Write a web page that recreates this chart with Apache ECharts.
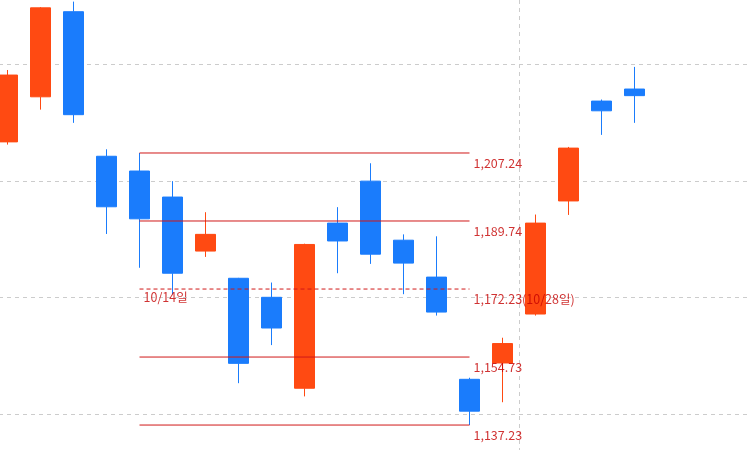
<!DOCTYPE html>
<html>
<head>
<meta charset="utf-8">
<script src="https://cdn.jsdelivr.net/npm/echarts@6/dist/echarts.min.js"></script>
<style>
html,body{margin:0;padding:0;background:#fff;}
#chart{width:748px;height:450px;}
</style>
</head>
<body>
<div id="chart"></div>
<script>
// categories (trading days)
var dates = ['10/07','10/08','10/10','10/11','10/14','10/15','10/16','10/17','10/18','10/21',
             '10/22','10/23','10/24','10/25','10/28','10/29','10/30','10/31','11/01','11/04',
             '11/05','11/06','11/07'];
// OHLC values: open, close, low, high
var opens  = [1210.1, 1221.7, 1243.6, 1206.4, 1202.6, 1195.9, 1182.0, 1175.0, 1170.1, 1146.7,
              1189.2, 1200.0, 1184.8, 1175.3, 1149.0, 1153.2, 1165.8, 1194.9, 1220.6, 1223.7];
var closes = [1227.3, 1244.6, 1217.1, 1193.4, 1190.3, 1176.3, 1186.3, 1153.1, 1162.2, 1183.7,
              1184.6, 1181.2, 1178.9, 1166.3, 1140.8, 1158.2, 1189.2, 1208.5, 1218.1, 1222.0];
var lows   = [1209.4, 1218.4, 1215.0, 1186.4, 1177.7, 1170.9, 1180.5, 1148.0, 1157.8, 1144.6,
              1176.3, 1178.7, 1170.9, 1165.4, 1137.23, 1143.1, 1165.4, 1191.3, 1211.9, 1215.0];
var highs  = [1228.6, 1244.8, 1246.2, 1208.2, 1207.24, 1200.0, 1192.0, 1175.1, 1173.9, 1183.9,
              1193.3, 1204.6, 1186.3, 1185.8, 1149.4, 1159.7, 1191.4, 1208.8, 1221.0, 1229.4];
// level lines (high 10/14 to low 10/28)
var levelValues = [1207.24, 1189.74, 1172.23, 1154.73, 1137.23];
var levelLabels = ['1,207.24', '1,189.74', '1,172.23(10/28일)', '1,154.73', '1,137.23'];
var levelDashed = [false, false, true, false, false];
var levelStart = '10/14';
var levelEnd = '10/28';
var startLabel = '10/14일';
var yTicks = [1140, 1170, 1200, 1230];
var dividerAfter = 16; // vertical divider sits before this category index

var ohlc = opens.map(function (o, i) { return [o, closes[i], lows[i], highs[i]]; });
var startIdx = dates.indexOf(levelStart);
var endIdx = dates.indexOf(levelEnd);
var lineRed = '#d01818';
var gridColor = '#cccccc';

var levelSeries = levelValues.map(function (v, i) {
  return {
    type: 'line',
    xAxisIndex: 0,
    yAxisIndex: 0,
    data: [[startIdx, v], [endIdx, v]],
    symbol: 'none',
    clip: false,
    silent: true,
    z: 3,
    color: lineRed,
    lineStyle: { color: lineRed, width: 1, opacity: 1, type: levelDashed[i] ? [4, 3] : 'solid' }
  };
});

var labelPoints = levelValues.map(function (v, i) {
  return { value: [endIdx, v], label: { formatter: levelLabels[i], offset: [0, 10] } };
});
labelPoints.push({ value: [startIdx, levelValues[2]], label: { formatter: startLabel, offset: [0, 8] } });

var chart = echarts.init(document.getElementById('chart'), null, { renderer: 'canvas' });
chart.setOption({
  animation: false,
  backgroundColor: '#ffffff',
  grid: [
    { left: -9, right: -2, top: 64.56, bottom: 35.73, containLabel: false, outerBoundsMode: 'none' },
    { left: -9, right: -2, top: 0, bottom: 0, containLabel: false, outerBoundsMode: 'none' }
  ],
  xAxis: [
    {
      type: 'category',
      gridIndex: 0,
      data: dates,
      boundaryGap: true,
      axisLine: { show: false },
      axisTick: { show: false },
      axisLabel: { show: false },
      splitLine: { show: false }
    },
    {
      // helper axis in band units, full height, only for the vertical divider
      type: 'value',
      gridIndex: 1,
      min: 0,
      max: dates.length,
      interval: dividerAfter,
      axisLine: { show: false },
      axisTick: { show: false },
      axisLabel: { show: false },
      splitLine: { show: true, lineStyle: { color: gridColor, type: [4, 4], width: 1 } }
    }
  ],
  yAxis: [
    {
      type: 'value',
      gridIndex: 0,
      min: yTicks[0],
      max: yTicks[yTicks.length - 1],
      interval: yTicks[1] - yTicks[0],
      axisLine: { show: false },
      axisTick: { show: false },
      axisLabel: { show: false },
      splitLine: { show: true, lineStyle: { color: gridColor, type: [4, 4], width: 1 } }
    },
    {
      type: 'value',
      gridIndex: 1,
      min: 0,
      max: 1,
      axisLine: { show: false },
      axisTick: { show: false },
      axisLabel: { show: false },
      splitLine: { show: false }
    }
  ],
  series: [
    {
      type: 'candlestick',
      xAxisIndex: 0,
      yAxisIndex: 0,
      data: ohlc,
      clip: false,
      barWidth: 21,
      z: 2,
      itemStyle: {
        color: '#ff4a12',
        color0: '#1a7cfc',
        borderColor: '#ff4a12',
        borderColor0: '#1a7cfc',
        borderWidth: 1
      }
    }
  ].concat(levelSeries).concat([
    {
      type: 'scatter',
      xAxisIndex: 0,
      yAxisIndex: 0,
      clip: false,
      symbolSize: 0,
      silent: true,
      z: 4,
      data: labelPoints,
      label: {
        show: true,
        position: 'right',
        distance: 4,
        color: '#c40000',
        fontFamily: '"Noto Sans CJK KR", sans-serif',
        fontSize: 12.5
      }
    }
  ])
});
</script>
</body>
</html>
